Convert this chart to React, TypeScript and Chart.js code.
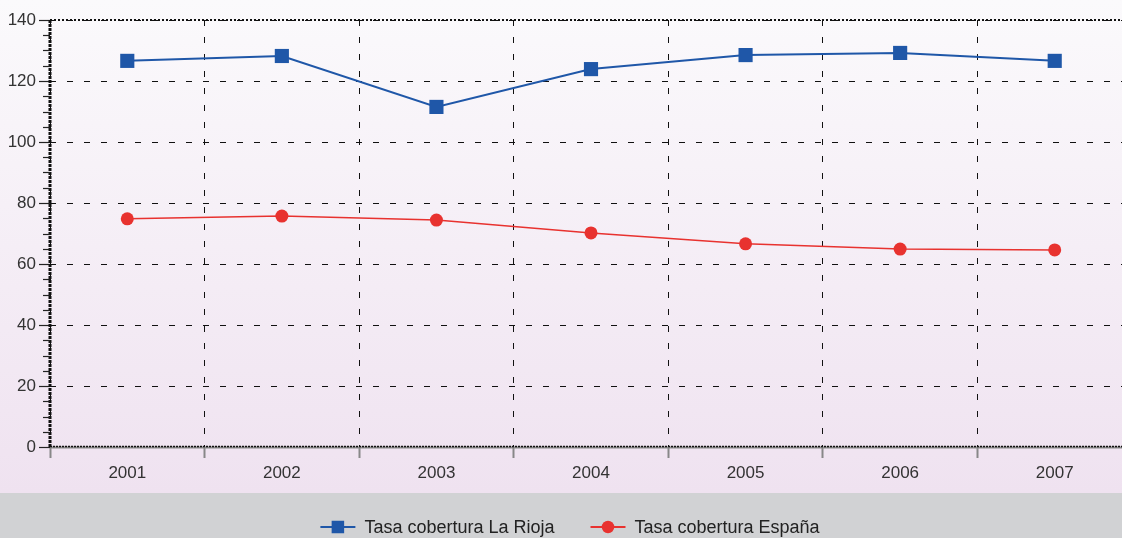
import React, { useEffect, useRef } from 'react';
import { Chart, registerables } from 'chart.js';

Chart.register(...registerables);

const years = ['2001', '2002', '2003', '2004', '2005', '2006', '2007'];
const laRioja = [126.6, 128.2, 111.5, 123.9, 128.5, 129.2, 126.6];
const espana = [74.8, 75.7, 74.4, 70.2, 66.6, 64.9, 64.6];
const seriesLabels = ['Tasa cobertura La Rioja', 'Tasa cobertura España'];
const seriesColors = ['#1f57a8', '#e8322f'];
const yMin = 0;
const yMax = 140;
const yStep = 20;
const yMinorStep = 5;

const FONT = '"Liberation Sans", Arial, Helvetica, sans-serif';
const W = 1142;
const H = 538;
const BAND_TOP = 493;

const bgPlugin = {
  id: 'bgPlugin',
  beforeDraw(chart: any) {
    const ctx = chart.ctx;
    ctx.save();
    const g = ctx.createLinearGradient(0, 0, 0, BAND_TOP);
    g.addColorStop(0, '#fbfafc');
    g.addColorStop(1, '#efe2f0');
    ctx.fillStyle = g;
    ctx.fillRect(0, 0, chart.width, BAND_TOP);
    ctx.fillStyle = '#d1d2d4';
    ctx.fillRect(0, BAND_TOP, chart.width, chart.height - BAND_TOP);
    ctx.restore();
  },
};

const axesPlugin = {
  id: 'axesPlugin',
  beforeDatasetsDraw(chart: any) {
    const ctx = chart.ctx;
    const { left, right, top, bottom } = chart.chartArea;
    const y = chart.scales.y;
    ctx.save();
    // top dotted border
    ctx.strokeStyle = '#111';
    ctx.lineWidth = 2;
    ctx.setLineDash([2, 2]);
    ctx.beginPath();
    ctx.moveTo(left, top);
    ctx.lineTo(right, top);
    ctx.stroke();
    // x axis line
    ctx.setLineDash([]);
    ctx.strokeStyle = '#8a8a8a';
    ctx.lineWidth = 2;
    ctx.beginPath();
    ctx.moveTo(left, bottom + 0.5);
    ctx.lineTo(right, bottom + 0.5);
    ctx.stroke();
    ctx.strokeStyle = '#111';
    ctx.lineWidth = 1.5;
    ctx.setLineDash([2, 1]);
    ctx.beginPath();
    ctx.moveTo(left, bottom - 0.5);
    ctx.lineTo(right, bottom - 0.5);
    ctx.stroke();
    // y axis line
    ctx.setLineDash([3, 1]);
    ctx.lineWidth = 3;
    ctx.strokeStyle = '#111';
    ctx.beginPath();
    ctx.moveTo(left, top);
    ctx.lineTo(left, bottom);
    ctx.stroke();
    // minor ticks
    ctx.setLineDash([]);
    ctx.lineWidth = 1.2;
    ctx.strokeStyle = '#222';
    for (let v = yMin; v <= yMax; v += yMinorStep) {
      if (v % yStep === 0) continue;
      const py = Math.round(y.getPixelForValue(v)) + 0.5;
      ctx.beginPath();
      ctx.moveTo(left - 7, py);
      ctx.lineTo(left, py);
      ctx.stroke();
    }
    ctx.restore();
  },
};

function drawMarker(ctx: CanvasRenderingContext2D, kind: string, x: number, y: number, size: number, color: string) {
  ctx.fillStyle = color;
  if (kind === 'rect') {
    ctx.fillRect(x - size / 2, y - size / 2, size, size);
  } else {
    ctx.beginPath();
    ctx.arc(x, y, size / 2, 0, Math.PI * 2);
    ctx.fill();
  }
}

const legendPlugin = {
  id: 'customLegend',
  afterDraw(chart: any) {
    const ctx = chart.ctx;
    ctx.save();
    ctx.font = `18px ${FONT}`;
    ctx.textBaseline = 'middle';
    const ly = 527;
    const lineW = 35;
    const gap = 9;
    const itemGap = 36;
    const kinds = ['rect', 'circle'];
    const widths = seriesLabels.map((t) => lineW + gap + ctx.measureText(t).width);
    const total = widths.reduce((a, b) => a + b, 0) + itemGap * (widths.length - 1);
    let x = 570 - total / 2;
    seriesLabels.forEach((t, i) => {
      ctx.strokeStyle = seriesColors[i];
      ctx.lineWidth = 2;
      ctx.beginPath();
      ctx.moveTo(x, ly);
      ctx.lineTo(x + lineW, ly);
      ctx.stroke();
      drawMarker(ctx, kinds[i], x + lineW / 2, ly, 12.5, seriesColors[i]);
      ctx.fillStyle = '#222';
      ctx.textAlign = 'left';
      ctx.fillText(t, x + lineW + gap, ly + 1);
      x += widths[i] + itemGap;
    });
    ctx.restore();
  },
};

export default function App() {
  const ref = useRef<HTMLCanvasElement | null>(null);
  useEffect(() => {
    if (!ref.current) return;
    const chart = new Chart(ref.current, {
      type: 'line',
      data: {
        labels: years,
        datasets: [
          {
            label: seriesLabels[0],
            data: laRioja,
            borderColor: seriesColors[0],
            backgroundColor: seriesColors[0],
            borderWidth: 2,
            pointStyle: 'rect',
            pointRadius: 10,
            pointBorderWidth: 0,
            pointHoverRadius: 10,
            tension: 0,
          },
          {
            label: seriesLabels[1],
            data: espana,
            borderColor: seriesColors[1],
            backgroundColor: seriesColors[1],
            borderWidth: 1.5,
            pointStyle: 'circle',
            pointRadius: 6.5,
            pointBorderWidth: 0,
            pointHoverRadius: 6.5,
            tension: 0,
          },
        ],
      },
      options: {
        responsive: false,
        animation: false,
        devicePixelRatio: 1,
        layout: { padding: { top: 20, left: 0, right: W - 1132, bottom: 45 } },
        plugins: { legend: { display: false }, tooltip: { enabled: false } },
        scales: {
          x: {
            type: 'category',
            offset: true,
            grid: {
              offset: true,
              color: '#111',
              lineWidth: 1,
              tickColor: '#888',
              tickWidth: 2,
              tickLength: 11,
              drawTicks: true,
            },
            border: { display: false, dash: [6, 11] },
            ticks: {
              color: '#333',
              font: { family: FONT, size: 17 },
              padding: 5,
              maxRotation: 0,
            },
            afterFit: (s: any) => {
              s.height = H - 447 - 45;
            },
          },
          y: {
            min: yMin,
            max: yMax,
            grid: {
              color: '#111',
              lineWidth: 1,
              tickColor: '#222',
              tickWidth: 1.2,
              tickLength: 11,
            },
            border: { display: false, dash: [6, 11] },
            ticks: {
              stepSize: yStep,
              color: '#333',
              font: { family: FONT, size: 17 },
              padding: 3,
            },
            afterFit: (s: any) => {
              s.width = 50;
            },
          },
        },
      },
      plugins: [bgPlugin, axesPlugin, legendPlugin],
    });
    return () => chart.destroy();
  }, []);
  return (
    <div style={{ position: 'fixed', left: 0, top: 0, width: 1122, height: 538, overflow: 'hidden' }}>
      <canvas ref={ref} width={W} height={H} style={{ width: W, height: H, display: 'block' }} />
    </div>
  );
}
